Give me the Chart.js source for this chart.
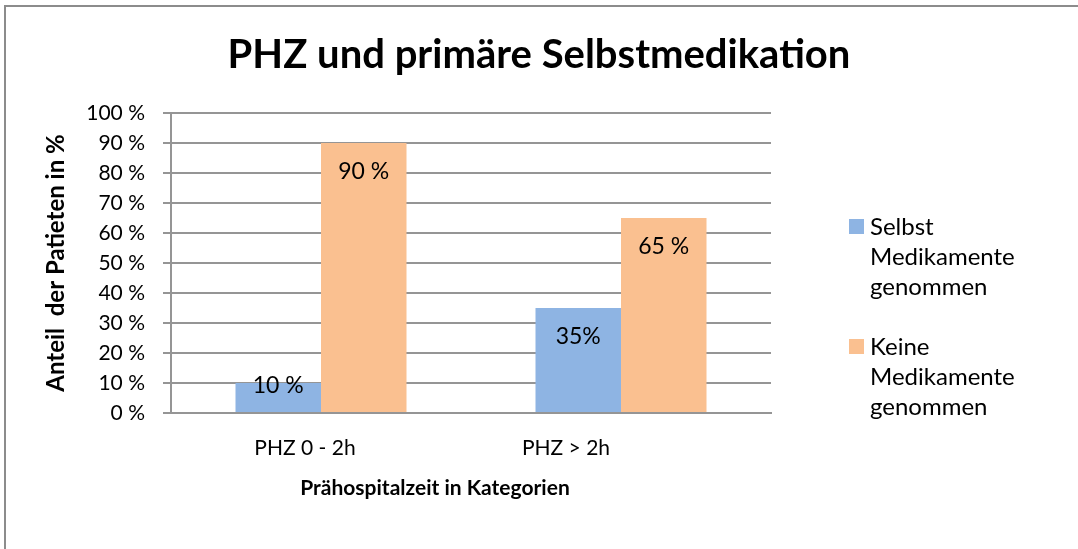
<!DOCTYPE html>
<html>
<head>
<meta charset="utf-8">
<title>PHZ und primäre Selbstmedikation</title>
<script src="https://cdn.jsdelivr.net/npm/chart.js@4.4.0/dist/chart.umd.min.js"></script>
<style>
  html, body { margin: 0; padding: 0; background: #fff; overflow: hidden; }
  #wrap { position: relative; width: 1078px; height: 549px; overflow: hidden; }
  #frame { position: absolute; left: 4px; top: 5px; width: 1200px; height: 700px;
           border-left: 2px solid #8c8c8c; border-top: 2px solid #8c8c8c; }
  #chart { position: absolute; left: 0; top: 0; }
</style>
</head>
<body>
<div id="wrap">
  <div id="frame"></div>
  <canvas id="chart" width="1078" height="549"></canvas>
</div>
<script>
// --- data ---
const chartTitle = 'PHZ und primäre Selbstmedikation';
const categories = ['PHZ 0 - 2h', 'PHZ > 2h'];
const seriesNames = ['Selbst Medikamente genommen', 'Keine Medikamente genommen'];
const selbstValues = [10, 35];
const keineValues = [90, 65];
const selbstLabels = ['10 %', '35%'];
const keineLabels = ['90 %', '65 %'];
const yTitle = 'Anteil  der Patieten in %';
const xTitle = 'Prähospitalzeit in Kategorien';

const colors = ['#8eb4e3', '#fac090'];
const gridColor = '#959595';
const FONT = 'Lato, Carlito, Calibri, sans-serif';

// the category labels in the original sit left of the bar groups
const labelShift = [-16, -55];

// --- everything drawn by hand: title, value labels, category labels, legend ---
const decorations = {
  id: 'decorations',
  afterDatasetsDraw(chart) {
    const ctx = chart.ctx;
    const area = chart.chartArea;
    const xScale = chart.scales.x;
    ctx.save();
    ctx.fillStyle = '#000';
    ctx.textBaseline = 'middle';
    ctx.textAlign = 'center';

    // title
    ctx.font = 'bold 40px ' + FONT;
    ctx.fillText(chartTitle, chart.width / 2, 55);

    // value labels inside the bar tops
    const labelSets = [selbstLabels, keineLabels];
    ctx.font = '23px ' + FONT;
    chart.data.datasets.forEach((ds, di) => {
      chart.getDatasetMeta(di).data.forEach((bar, i) => {
        const y = Math.min(bar.y + 29, bar.base - 26);
        ctx.fillText(labelSets[di][i], bar.x, y);
      });
    });

    // category labels
    ctx.font = '21px ' + FONT;
    categories.forEach((c, i) => {
      ctx.fillText(c, xScale.getPixelForValue(i) + labelShift[i], area.bottom + 35);
    });

    // x axis title
    ctx.font = 'bold 21px ' + FONT;
    ctx.fillText(xTitle, (area.left + area.right) / 2 - 36, area.bottom + 75);

    // legend
    ctx.textAlign = 'left';
    ctx.font = '24px ' + FONT;
    const lx = area.right + 78;
    let ly = area.top + 114;
    chart.data.datasets.forEach((ds) => {
      ctx.fillStyle = ds.backgroundColor;
      ctx.fillRect(lx, ly - 8, 15, 15);
      ctx.fillStyle = '#000';
      ds.label.split(' ').forEach((word) => {
        ctx.fillText(word, lx + 21, ly);
        ly += 30;
      });
      ly += 30;
    });
    ctx.restore();
  }
};

new Chart(document.getElementById('chart'), {
  type: 'bar',
  data: {
    labels: categories,
    datasets: [
      { label: seriesNames[0], data: selbstValues, backgroundColor: colors[0] },
      { label: seriesNames[1], data: keineValues, backgroundColor: colors[1] }
    ]
  },
  options: {
    responsive: false,
    animation: false,
    events: [],
    layout: { padding: { left: 0, top: 113, right: 307, bottom: 0 } },
    datasets: { bar: { barPercentage: 1, categoryPercentage: 0.57 } },
    plugins: {
      legend: { display: false },
      title: { display: false },
      tooltip: { enabled: false }
    },
    scales: {
      x: {
        grid: { display: false },
        border: { display: true, color: gridColor, width: 2 },
        ticks: { display: false },
        afterFit(scale) { scale.height = 136; }
      },
      y: {
        min: 0,
        max: 100,
        ticks: {
          stepSize: 10,
          callback: (v) => v + ' %',
          font: { family: FONT, size: 21 },
          color: '#000',
          padding: 18
        },
        grid: { color: gridColor, lineWidth: 2, tickLength: 8 },
        border: { color: gridColor, width: 2 },
        title: {
          display: true,
          text: yTitle,
          font: { family: FONT, size: 24, weight: 'bold' },
          color: '#000',
          padding: { top: 42, bottom: 0 }
        },
        afterFit(scale) { scale.width = 171; }
      }
    }
  },
  plugins: [decorations]
});
</script>
</body>
</html>
